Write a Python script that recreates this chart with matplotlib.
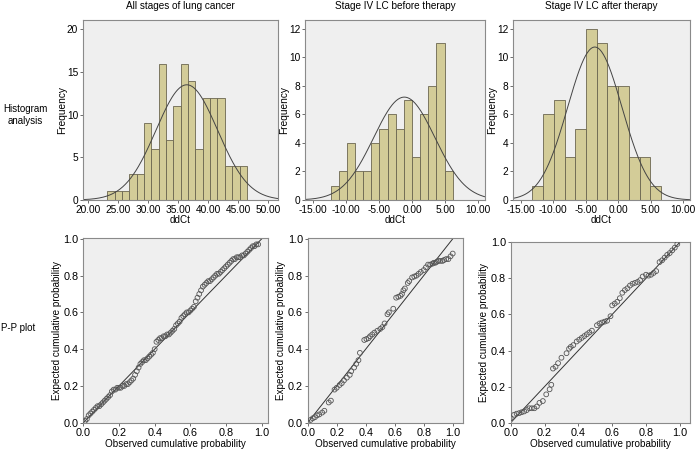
import numpy as np
import matplotlib
matplotlib.use("Agg")
import matplotlib.pyplot as plt

plt.rcParams['font.family'] = ['Liberation Sans', 'DejaVu Sans']

# histogram data (counts per bin)
all_counts = [1, 1, 1, 3, 3, 9, 6, 16, 7, 11, 16, 14, 6, 12, 12, 12, 4, 4, 4]
all_start, all_width = 23.17, 1.223
all_mean, all_sd = 36.4, 5.13

before_counts = [1, 2, 4, 2, 2, 4, 5, 6, 5, 7, 3, 6, 8, 11, 2]
before_start, before_width = -12.32, 1.232
before_mean, before_sd = -1.16, 4.64

after_counts = [1, 6, 7, 3, 5, 12, 11, 8, 8, 3, 3, 1]
after_start, after_width = -13.2, 1.65
after_mean, after_sd = -3.6, 4.18

titles = ["All stages of lung cancer", "Stage IV LC before therapy", "Stage IV LC after therapy"]

# P-P plot points (observed, expected)
pp_all_x = [0.01, 0.02, 0.03, 0.04, 0.05, 0.06, 0.07, 0.08, 0.09, 0.10, 0.11, 0.12, 0.13, 0.14,
            0.15, 0.16, 0.17, 0.18, 0.19, 0.20, 0.21, 0.22, 0.23, 0.24, 0.25, 0.26, 0.27, 0.28,
            0.29, 0.30, 0.31, 0.32, 0.33, 0.34, 0.35, 0.36, 0.37, 0.38, 0.39, 0.40, 0.41, 0.42,
            0.43, 0.44, 0.45, 0.46, 0.47, 0.48, 0.49, 0.50, 0.51, 0.52, 0.53, 0.54, 0.55, 0.56,
            0.57, 0.58, 0.59, 0.60, 0.61, 0.62, 0.63, 0.64, 0.65, 0.66, 0.67, 0.68, 0.69, 0.70,
            0.71, 0.72, 0.73, 0.74, 0.75, 0.76, 0.77, 0.78, 0.79, 0.80, 0.81, 0.82, 0.83, 0.84,
            0.85, 0.86, 0.87, 0.88, 0.89, 0.90, 0.91, 0.92, 0.93, 0.94, 0.95, 0.96, 0.97, 0.98]
pp_all_y = [0.01, 0.02, 0.04, 0.05, 0.06, 0.07, 0.08, 0.09, 0.09, 0.10, 0.11, 0.12, 0.13, 0.14,
            0.15, 0.17, 0.18, 0.18, 0.19, 0.19, 0.19, 0.20, 0.20, 0.21, 0.21, 0.22, 0.23, 0.24,
            0.26, 0.28, 0.30, 0.32, 0.33, 0.34, 0.34, 0.35, 0.36, 0.37, 0.38, 0.40, 0.44, 0.45,
            0.46, 0.46, 0.47, 0.47, 0.48, 0.48, 0.49, 0.50, 0.51, 0.53, 0.54, 0.55, 0.57, 0.58,
            0.59, 0.60, 0.60, 0.61, 0.62, 0.63, 0.66, 0.68, 0.70, 0.72, 0.74, 0.75, 0.76, 0.77,
            0.77, 0.78, 0.79, 0.80, 0.81, 0.81, 0.82, 0.83, 0.84, 0.85, 0.86, 0.87, 0.88, 0.89,
            0.89, 0.90, 0.90, 0.90, 0.91, 0.91, 0.92, 0.93, 0.94, 0.95, 0.96, 0.96, 0.97, 0.97]

pp_before_x = [0.00, 0.02, 0.035, 0.05, 0.065, 0.08, 0.10, 0.115, 0.145, 0.16, 0.185, 0.20, 0.22,
               0.235, 0.25, 0.27, 0.29, 0.30, 0.32, 0.335, 0.35, 0.36, 0.39, 0.405, 0.42, 0.43,
               0.445, 0.46, 0.48, 0.50, 0.515, 0.53, 0.55, 0.56, 0.59, 0.61, 0.625, 0.64, 0.65,
               0.66, 0.67, 0.69, 0.70, 0.72, 0.735, 0.75, 0.765, 0.78, 0.80, 0.815, 0.83, 0.845,
               0.86, 0.87, 0.88, 0.89, 0.90, 0.915, 0.93, 0.94, 0.955, 0.97, 0.985, 1.00]
pp_before_y = [0.00, 0.015, 0.024, 0.03, 0.04, 0.045, 0.055, 0.065, 0.11, 0.12, 0.18, 0.19, 0.205,
               0.215, 0.23, 0.245, 0.26, 0.28, 0.30, 0.32, 0.34, 0.38, 0.45, 0.455, 0.46, 0.47,
               0.48, 0.49, 0.50, 0.51, 0.52, 0.54, 0.59, 0.60, 0.62, 0.68, 0.685, 0.69, 0.70,
               0.72, 0.73, 0.76, 0.77, 0.79, 0.795, 0.80, 0.81, 0.82, 0.83, 0.845, 0.86, 0.86,
               0.865, 0.87, 0.87, 0.875, 0.88, 0.88, 0.88, 0.885, 0.89, 0.89, 0.905, 0.92]

pp_after_x = [0.00, 0.02, 0.035, 0.05, 0.065, 0.08, 0.095, 0.11, 0.125, 0.14, 0.155, 0.17, 0.19,
              0.21, 0.23, 0.24, 0.25, 0.265, 0.28, 0.30, 0.33, 0.345, 0.355, 0.37, 0.39, 0.405,
              0.42, 0.435, 0.45, 0.465, 0.48, 0.51, 0.525, 0.54, 0.555, 0.57, 0.59, 0.60, 0.615,
              0.63, 0.645, 0.66, 0.675, 0.69, 0.705, 0.72, 0.735, 0.75, 0.765, 0.78, 0.80, 0.815,
              0.83, 0.845, 0.86, 0.88, 0.895, 0.91, 0.925, 0.94, 0.955, 0.97, 0.985]
pp_after_y = [0.025, 0.044, 0.05, 0.053, 0.058, 0.0625, 0.07, 0.08, 0.08, 0.08, 0.09, 0.11, 0.12,
              0.157, 0.185, 0.21, 0.30, 0.31, 0.33, 0.36, 0.385, 0.41, 0.42, 0.43, 0.45, 0.46,
              0.47, 0.48, 0.49, 0.50, 0.51, 0.54, 0.55, 0.555, 0.56, 0.565, 0.59, 0.65, 0.66,
              0.67, 0.69, 0.72, 0.735, 0.745, 0.76, 0.77, 0.775, 0.78, 0.79, 0.81, 0.82, 0.815,
              0.82, 0.83, 0.84, 0.89, 0.90, 0.915, 0.93, 0.94, 0.955, 0.97, 0.99]

bg = '#efefef'
bar_fill = '#d3cc98'
bar_edge = '#6b6650'
frame = '#8a8a8a'
W, H = 698, 450


def px_axes(fig, left, right, top, bottom):
    return fig.add_axes([left / W, 1 - bottom / H, (right - left) / W, (bottom - top) / H])


def style(ax, size):
    ax.set_facecolor(bg)
    for s in ax.spines.values():
        s.set_color(frame)
        s.set_linewidth(0.8)
    ax.tick_params(axis='both', labelsize=size, length=2.5, width=0.6, color='#555555', pad=1)


fig = plt.figure(figsize=(W / 100, H / 100), dpi=100)

hist_specs = [
    (all_counts, all_start, all_width, all_mean, all_sd, (83, 278), (19.1, 51.6), 21.1,
     [20, 25, 30, 35, 40, 45, 50], [0, 5, 10, 15, 20]),
    (before_counts, before_start, before_width, before_mean, before_sd, (305, 485), (-16.2, 11.06), 12.6,
     [-15, -10, -5, 0, 5, 10], [0, 2, 4, 6, 8, 10, 12]),
    (after_counts, after_start, after_width, after_mean, after_sd, (513, 690), (-16.2, 11.06), 12.6,
     [-15, -10, -5, 0, 5, 10], [0, 2, 4, 6, 8, 10, 12]),
]

for i, (counts, start, width, mu, sd, (l, r), xlim, ytop, xt, yt) in enumerate(hist_specs):
    ax = px_axes(fig, l, r, 20, 200)
    style(ax, 7.3)
    edges = start + width * np.arange(len(counts))
    ax.bar(edges, counts, width=width, align='edge', color=bar_fill,
           edgecolor=bar_edge, linewidth=0.6)
    xs = np.linspace(xlim[0], xlim[1], 300)
    n = sum(counts)
    ys = n * width / (sd * np.sqrt(2 * np.pi)) * np.exp(-0.5 * ((xs - mu) / sd) ** 2)
    ax.plot(xs, ys, color='#444444', linewidth=0.7)
    ax.set_xlim(*xlim)
    ax.set_ylim(0, ytop)
    ax.set_xticks(xt)
    ax.set_xticklabels(['%.2f' % v for v in xt])
    ax.set_yticks(yt)
    ax.set_xlabel('ddCt', fontsize=7.1, labelpad=0)
    ax.set_ylabel('Frequency', fontsize=7.3, labelpad=0)
    fig.text(((l + r) / 2) / W, 1 - 6 / H, titles[i], ha='center', va='center', fontsize=7.2)

pp_specs = [
    (pp_all_x, pp_all_y, (83.3, 268.3), 238.3, 1.037),
    (pp_before_x, pp_before_y, (307.7, 463.3), 238.3, 1.073),
    (pp_after_x, pp_after_y, (510.7, 690), 241.7, 1.06),
]

for px_, py_, (l, r), top, xmax in pp_specs:
    ax = px_axes(fig, l, r, top, 422.7)
    style(ax, 7.8)
    ax.plot([0, 1.2], [0, 1.2], color='#333333', linewidth=0.7)
    ax.scatter(px_, py_, s=12, facecolors='none', edgecolors='#555555', linewidths=0.6, zorder=3)
    ax.set_xlim(0, xmax)
    ax.set_ylim(0, 1.003)
    ticks = [0.0, 0.2, 0.4, 0.6, 0.8, 1.0]
    ax.set_xticks(ticks)
    ax.set_yticks(ticks)
    ax.set_xticklabels(['%.1f' % v for v in ticks])
    ax.set_yticklabels(['%.1f' % v for v in ticks])
    ax.set_xlabel('Observed cumulative probability', fontsize=7.1, labelpad=1)
    ax.set_ylabel('Expected cumulative probability', fontsize=7.1, labelpad=1)

fig.text(25 / W, 1 - 115 / H, 'Histogram\nanalysis', ha='center', va='center', fontsize=7.0,
         linespacing=1.2)
fig.text(18 / W, 1 - 328 / H, 'P-P plot', ha='center', va='center', fontsize=7.0)

fig.savefig('out.png', dpi=100)
